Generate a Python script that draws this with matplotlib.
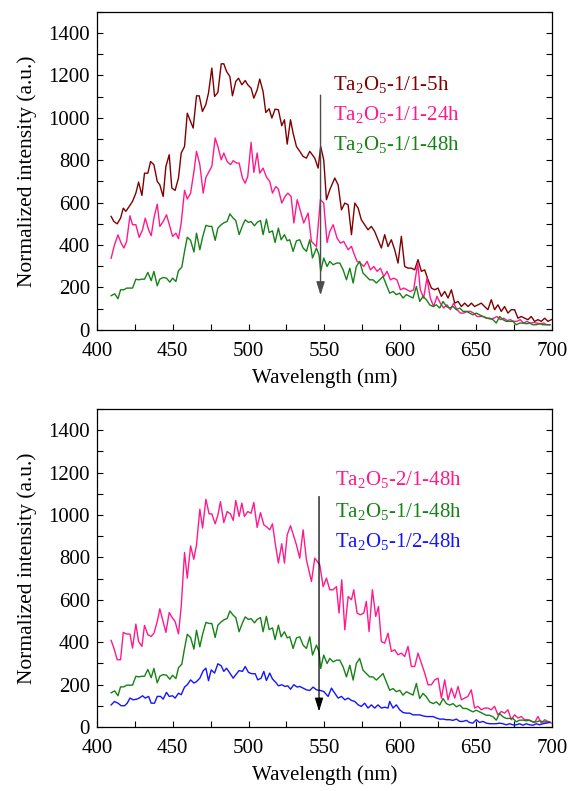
import matplotlib
matplotlib.use("Agg")
from matplotlib import pyplot as plt
from matplotlib.ticker import MultipleLocator

plt.rcParams['font.family'] = ['Liberation Serif', 'DejaVu Serif']
plt.rcParams['mathtext.fontset'] = 'custom'
plt.rcParams['mathtext.rm'] = 'Liberation Serif'

# ---- top panel data (wavelength nm, intensity) ----
wl_5h = [409.4, 411.2, 413.4, 415.6, 417.4, 419.1, 421.3, 423.5, 425.7, 427.5, 429.7, 431.4, 433.6, 435.4,
         437.6, 439.8, 441.5, 443.7, 445.5, 447.7, 449.4, 451.6, 453.8, 455.6, 457.8, 459.6, 461.3, 463.5,
         465.7, 467.5, 469.6, 471.8, 473.6, 475.8, 477.6, 479.8, 482.0, 483.7, 485.5, 487.7, 489.4, 491.6,
         493.4, 495.6, 497.8, 499.5, 501.7, 503.5, 505.7, 507.4, 509.6, 511.4, 513.6, 515.4, 517.5, 519.7,
         521.9, 523.7, 525.5, 527.7, 529.4, 531.6, 533.8, 536.0, 538.2, 540.4, 543.7, 545.9, 547.6, 549.6,
         551.4, 553.6, 556.9, 559.1, 561.3, 563.5, 565.7, 567.9, 570.1, 572.3, 574.4, 576.6, 578.8, 581.0,
         583.2, 585.4, 587.6, 589.8, 592.0, 594.2, 596.4, 598.6, 600.8, 603.0, 605.2, 607.4, 609.6, 611.8,
         614.0, 616.2, 618.4, 620.6, 622.8, 625.0, 627.2, 629.4, 631.6, 633.8, 636.0, 638.2, 640.4, 642.6,
         644.8, 647.0, 649.1, 651.3, 653.5, 655.7, 657.9, 660.1, 662.3, 664.5, 666.7, 668.9, 671.1, 673.3,
         675.5, 677.7, 679.9, 682.1, 684.3, 686.5, 688.7, 690.9, 693.1, 695.3, 697.5, 699.7]
int_5h = [535, 511, 500, 527, 574, 559, 582, 606, 645, 697, 634, 739, 739, 794,
          779, 700, 684, 629, 771, 826, 669, 658, 716, 834, 865, 1022, 991, 952,
          1104, 1104, 1030, 1062, 1117, 1235, 1101, 1120, 1255, 1255, 1219, 1195, 1104, 1172,
          1187, 1156, 1176, 1156, 1140, 1093, 1132, 1183, 1124, 1025, 1043, 999, 1041, 1038,
          963, 991, 876, 991, 928, 865, 842, 818, 810, 842, 810, 763, 865, 802,
          614, 661, 716, 684, 566, 598, 590, 449, 598, 574, 519, 496, 472, 488,
          464, 425, 386, 449, 393, 425, 378, 315, 441, 299, 291, 291, 283, 331,
          276, 283, 236, 197, 189, 197, 158, 181, 150, 189, 126, 134, 110, 126,
          110, 126, 110, 118, 126, 110, 95, 142, 95, 118, 87, 110, 79, 95,
          95, 55, 63, 55, 48, 63, 40, 48, 40, 55, 40, 48]

wl_24h = [409.4, 411.6, 413.9, 416.0, 417.8, 419.6, 421.8, 423.5, 425.7, 427.9, 430.1, 431.9, 434.1, 435.8,
          437.6, 439.8, 441.5, 443.7, 445.9, 448.1, 449.9, 452.1, 453.8, 455.6, 457.8, 459.6, 461.8, 464.0,
          465.7, 467.9, 470.1, 471.9, 474.0, 475.8, 478.0, 479.8, 482.0, 483.7, 485.9, 488.1, 489.9, 492.1,
          493.8, 496.0, 497.8, 499.5, 501.7, 503.5, 505.7, 507.4, 509.6, 511.8, 514.0, 515.8, 518.0, 519.7,
          521.9, 524.1, 525.9, 528.1, 529.9, 532.1, 534.3, 536.4, 539.3, 541.5, 544.8, 547.4, 549.6, 551.8,
          553.6, 555.8, 558.4, 560.6, 562.8, 565.7, 567.9, 569.4, 571.6, 573.8, 576.0, 578.2, 580.4, 582.6,
          584.8, 587.0, 589.2, 591.4, 593.6, 595.8, 597.9, 600.2, 602.4, 604.5, 606.7, 608.9, 611.6, 613.3,
          615.5, 617.7, 619.9, 622.1, 624.3, 626.5, 628.7, 630.9, 633.1, 635.3, 637.5, 639.7, 641.9, 644.1,
          646.3, 648.5, 650.7, 652.9, 655.1, 657.3, 659.5, 661.7, 663.9, 666.1, 668.3, 670.5, 672.7, 674.9,
          677.0, 679.2, 681.4, 683.6, 685.8, 688.0, 690.2, 692.4, 694.6, 696.8, 699.0]
int_24h = [338, 401, 448, 409, 386, 417, 538, 496, 496, 436, 472, 527, 472, 444,
           527, 593, 488, 511, 543, 488, 441, 456, 430, 504, 658, 617, 645, 747,
           842, 779, 645, 719, 747, 771, 905, 865, 802, 834, 794, 779, 798, 787,
           787, 716, 692, 724, 884, 743, 834, 739, 763, 721, 700, 645, 676, 664,
           598, 629, 645, 629, 504, 614, 559, 504, 551, 417, 393, 614, 598, 412,
           464, 496, 433, 409, 417, 378, 394, 362, 323, 315, 299, 323, 283, 299,
           276, 291, 252, 276, 236, 244, 236, 189, 197, 189, 181, 189, 315, 189,
           150, 244, 150, 110, 158, 126, 103, 118, 95, 126, 95, 79, 79, 87,
           87, 79, 63, 63, 63, 55, 51, 55, 63, 48, 55, 44, 48, 40,
           40, 48, 32, 40, 32, 35, 32, 29, 32, 24, 24]

wl_48h = [409.4, 411.7, 413.9, 415.6, 417.8, 419.6, 421.8, 423.5, 425.7, 427.5, 429.7, 431.4, 433.6, 435.8,
          437.6, 439.8, 441.5, 443.7, 445.9, 448.1, 449.9, 452.1, 453.8, 456.0, 457.8, 459.6, 461.8, 464.0,
          465.7, 467.9, 469.7, 471.9, 474.0, 475.8, 478.0, 479.8, 482.0, 484.2, 485.9, 487.7, 489.9, 491.6,
          493.8, 496.0, 497.8, 500.0, 501.7, 503.9, 505.7, 507.9, 509.6, 511.8, 513.6, 515.8, 517.5, 519.7,
          521.5, 523.7, 525.5, 527.2, 529.4, 531.6, 533.8, 536.0, 538.2, 540.4, 542.2, 544.8, 546.5, 547.6,
          549.6, 551.8, 553.6, 555.8, 558.0, 560.2, 562.4, 564.6, 566.8, 569.0, 571.1, 573.3, 575.5, 577.7,
          579.9, 582.1, 584.3, 586.5, 588.7, 590.9, 593.1, 595.3, 597.5, 599.7, 601.9, 604.1, 606.3, 608.5,
          610.7, 612.9, 615.1, 617.3, 619.5, 621.7, 623.9, 626.1, 628.3, 630.5, 632.7, 634.9, 637.1, 639.3,
          641.5, 643.7, 645.8, 648.0, 650.2, 652.4, 654.6, 656.8, 659.0, 661.2, 663.4, 665.6, 667.8, 670.0,
          672.2, 674.4, 676.6, 678.8, 681.0, 683.2, 685.4, 687.6, 689.8, 692.0, 694.2, 696.4, 698.6]
int_48h = [161, 170, 147, 189, 189, 197, 197, 197, 239, 236, 239, 239, 271, 232,
           276, 208, 239, 247, 244, 225, 244, 228, 279, 296, 370, 437, 422, 367,
           456, 378, 437, 493, 488, 488, 422, 480, 496, 507, 511, 547, 527, 516,
           449, 491, 519, 507, 511, 491, 507, 516, 449, 522, 459, 467, 412, 480,
           425, 449, 420, 425, 370, 420, 425, 386, 370, 425, 339, 386, 354, 276,
           339, 299, 323, 307, 315, 315, 283, 236, 291, 221, 299, 323, 268, 252,
           236, 236, 221, 236, 252, 213, 173, 181, 166, 173, 150, 166, 158, 150,
           205, 134, 158, 142, 118, 110, 118, 103, 134, 110, 103, 110, 95, 103,
           87, 87, 79, 71, 79, 71, 63, 55, 55, 48, 32, 63, 48, 40,
           40, 40, 24, 32, 32, 29, 32, 24, 24, 29, 24, 24, 24]

# ---- bottom panel data ----
wl_21 = [409.4, 411.2, 413.4, 415.6, 417.4, 419.6, 421.8, 423.5, 425.7, 427.5, 429.7, 431.4, 433.6, 435.8,
         437.6, 439.8, 441.5, 443.7, 445.5, 447.7, 449.9, 451.6, 453.8, 455.6, 457.8, 459.6, 461.8, 463.9,
         465.7, 467.9, 469.7, 471.9, 474.0, 475.8, 478.0, 479.8, 481.5, 483.7, 485.9, 488.1, 489.9, 491.6,
         493.8, 495.6, 497.3, 499.5, 501.7, 503.5, 505.7, 507.9, 510.1, 511.8, 514.0, 515.8, 517.6, 519.7,
         521.9, 523.7, 525.5, 527.7, 529.9, 531.6, 533.8, 536.0, 538.2, 541.5, 543.7, 547.0, 549.2, 551.4,
         553.6, 555.8, 558.0, 559.7, 561.5, 563.5, 565.7, 567.9, 569.4, 571.6, 573.8, 576.0, 577.7, 579.5,
         581.7, 583.9, 585.7, 587.6, 589.8, 592.0, 594.2, 596.4, 598.6, 600.8, 603.0, 605.2, 607.4, 609.6,
         611.8, 614.0, 616.2, 618.4, 620.6, 622.8, 625.0, 627.2, 629.4, 631.6, 633.8, 636.0, 638.2, 640.4,
         642.6, 644.7, 646.9, 649.1, 651.3, 653.5, 655.7, 657.9, 660.1, 662.3, 664.5, 666.7, 668.9, 671.1,
         673.3, 675.5, 677.7, 679.9, 682.1, 684.3, 686.5, 688.7, 690.9, 693.1, 695.3, 697.5, 699.7]
int_21 = [408, 372, 317, 317, 446, 438, 438, 372, 485, 403, 380, 479, 435, 427,
          442, 497, 557, 497, 446, 540, 513, 497, 439, 568, 823, 702, 854, 791,
          859, 1027, 938, 1074, 1005, 1005, 958, 1000, 1063, 964, 1016, 1005, 974, 1068,
          993, 1056, 993, 1016, 1008, 1059, 941, 1011, 953, 945, 930, 958, 867, 773,
          864, 773, 906, 949, 898, 859, 796, 930, 788, 686, 796, 765, 662, 702,
          647, 647, 662, 537, 694, 458, 615, 600, 647, 537, 529, 537, 592, 450,
          647, 521, 568, 403, 395, 442, 356, 364, 340, 348, 332, 380, 285, 285,
          348, 301, 254, 199, 199, 222, 230, 136, 222, 128, 183, 136, 191, 128,
          136, 144, 175, 89, 97, 81, 89, 89, 81, 97, 57, 73, 65, 81,
          34, 57, 42, 49, 34, 34, 26, 21, 49, 18, 34, 26, 18]

wl_12 = [409.4, 411.6, 413.9, 416.0, 418.3, 420.0, 421.8, 424.0, 426.2, 427.9, 430.1, 431.9, 434.1, 435.8,
         438.0, 439.8, 442.0, 443.7, 445.9, 447.7, 449.9, 451.6, 453.8, 455.6, 457.8, 459.6, 461.8, 464.0,
         465.7, 467.9, 470.1, 471.9, 473.6, 475.4, 477.6, 479.8, 482.0, 483.7, 485.5, 487.7, 489.9, 492.1,
         493.8, 496.0, 497.8, 500.0, 502.2, 504.4, 506.1, 508.3, 510.1, 511.8, 514.0, 515.8, 518.0, 519.7,
         521.9, 524.1, 525.9, 527.7, 529.9, 532.1, 533.8, 536.0, 538.2, 540.4, 542.6, 544.8, 547.4, 549.6,
         552.5, 554.7, 556.9, 559.1, 561.3, 563.5, 565.7, 567.9, 570.1, 572.3, 574.4, 576.6, 578.8, 581.0,
         583.2, 585.4, 587.6, 589.8, 592.0, 593.1, 595.3, 597.5, 599.7, 601.9, 604.1, 606.3, 608.5, 610.7,
         612.9, 615.1, 617.3, 619.5, 621.7, 623.9, 626.1, 628.3, 630.5, 632.7, 634.9, 637.1, 639.3, 641.5,
         643.7, 645.8, 648.0, 650.2, 652.4, 654.6, 656.8, 659.0, 661.2, 663.4, 665.6, 667.8, 670.0, 672.2,
         674.4, 676.6, 678.8, 681.0, 683.2, 685.4, 687.6, 689.8, 692.0, 694.2, 696.4, 698.6]
int_12 = [104, 120, 112, 100, 100, 112, 136, 128, 131, 136, 147, 136, 144, 112,
          112, 144, 144, 131, 163, 144, 147, 136, 159, 152, 188, 199, 222, 207,
          214, 230, 265, 277, 218, 269, 254, 298, 288, 262, 277, 254, 230, 251,
          266, 262, 285, 257, 251, 251, 222, 230, 262, 219, 254, 226, 210, 194,
          199, 191, 194, 178, 199, 188, 191, 183, 175, 172, 188, 175, 172, 167,
          144, 183, 159, 136, 144, 128, 136, 125, 120, 104, 97, 112, 89, 104,
          89, 104, 89, 93, 89, 120, 89, 104, 81, 68, 65, 65, 57, 57,
          57, 52, 49, 49, 49, 42, 37, 37, 34, 34, 31, 37, 26, 26,
          31, 21, 18, 34, 21, 26, 18, 15, 15, 15, 18, 15, 10, 15,
          10, 10, 15, 8, 15, 10, 8, 15, 10, 15, 18, 21]

labels_top = ['Ta$_\\mathregular{2}$O$_\\mathregular{5}$-1/1-5h',
              'Ta$_\\mathregular{2}$O$_\\mathregular{5}$-1/1-24h',
              'Ta$_\\mathregular{2}$O$_\\mathregular{5}$-1/1-48h']
labels_bot = ['Ta$_\\mathregular{2}$O$_\\mathregular{5}$-2/1-48h',
              'Ta$_\\mathregular{2}$O$_\\mathregular{5}$-1/1-48h',
              'Ta$_\\mathregular{2}$O$_\\mathregular{5}$-1/2-48h']

c_maroon = '#800000'
c_pink = '#FF1A8C'
c_green = '#168216'
c_blue = '#1414FF'


def style_axes(ax):
    ax.set_xlim(400, 700)
    ax.set_ylim(0, 1500)
    ax.xaxis.set_major_locator(MultipleLocator(50))
    ax.xaxis.set_minor_locator(MultipleLocator(25))
    ax.yaxis.set_major_locator(MultipleLocator(200))
    ax.yaxis.set_minor_locator(MultipleLocator(100))
    ax.tick_params(which='both', direction='in', right=True, top=False, labelsize=15)
    ax.tick_params(which='major', length=4, width=0.8)
    ax.tick_params(which='minor', length=4, width=0.8)
    ax.tick_params(axis='x', which='major', pad=9)
    ax.tick_params(axis='y', which='major', pad=5)
    ax.set_xlabel('Wavelength (nm)', fontsize=15, labelpad=5)
    ax.set_ylabel('Normalized intensity (a.u.)', fontsize=15.5, labelpad=8)
    for s in ax.spines.values():
        s.set_linewidth(0.9)


fig = plt.figure(figsize=(5.70, 7.91), dpi=100)
ax1 = fig.add_axes([0.170, 0.583, 0.798, 0.402])
ax2 = fig.add_axes([0.170, 0.081, 0.798, 0.402])

# top
ax1.plot(wl_5h, int_5h, color=c_maroon, lw=1.0)
ax1.plot(wl_24h, int_24h, color=c_pink, lw=1.0)
ax1.plot(wl_48h, int_48h, color=c_green, lw=1.0)
ax1.annotate('', xy=(547.5, 150), xytext=(547.5, 1120),
             arrowprops=dict(arrowstyle='-|>,head_length=0.8,head_width=0.25', color='0.3', lw=1.0))
for lab, col, yv in zip(labels_top, [c_maroon, c_pink, c_green], [1155, 1014, 873]):
    ax1.text(555.5, yv, lab, color=col, fontsize=15, va='center', ha='left')
style_axes(ax1)

# bottom
ax2.plot(wl_21, int_21, color=c_pink, lw=1.0)
ax2.plot(wl_48h, int_48h, color=c_green, lw=1.0)
ax2.plot(wl_12, int_12, color=c_blue, lw=1.0)
ax2.annotate('', xy=(546.5, 60), xytext=(546.5, 1100),
             arrowprops=dict(arrowstyle='-|>,head_length=0.8,head_width=0.25', color='black', lw=0.9))
for lab, col, yv in zip(labels_bot, [c_pink, c_green, c_blue], [1165, 1014, 873]):
    ax2.text(557, yv, lab, color=col, fontsize=15, va='center', ha='left')
style_axes(ax2)

fig.savefig('out.png', dpi=100)
